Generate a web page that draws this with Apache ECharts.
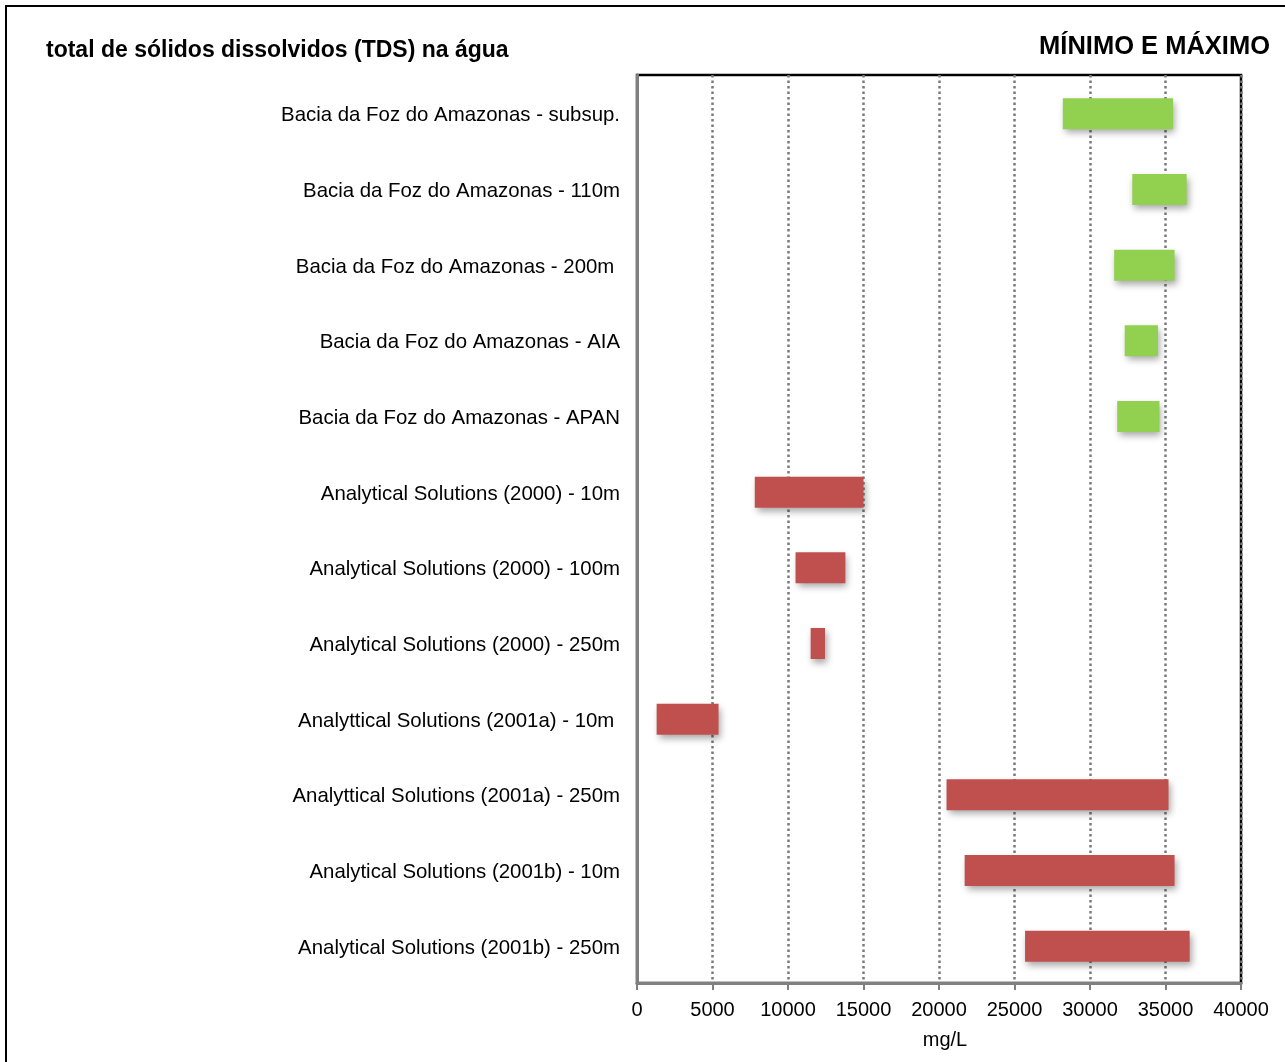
<!DOCTYPE html>
<html>
<head>
<meta charset="utf-8">
<script src="https://cdn.jsdelivr.net/npm/echarts@6.0.0/dist/echarts.min.js"></script>
<style>
  html, body { margin: 0; padding: 0; background: #fff; }
  #chart { width: 1285px; height: 1062px; }
</style>
</head>
<body>
<div id="chart"></div>
<script>
(function () {
  'use strict';

  // Sample sites, top to bottom
  var categories = [
    'Bacia da Foz do Amazonas - subsup.',
    'Bacia da Foz do Amazonas - 110m',
    'Bacia da Foz do Amazonas - 200m ',
    'Bacia da Foz do Amazonas - AIA',
    'Bacia da Foz do Amazonas - APAN',
    'Analytical Solutions (2000) - 10m',
    'Analytical Solutions (2000) - 100m',
    'Analytical Solutions (2000) - 250m',
    'Analyttical Solutions (2001a) - 10m ',
    'Analyttical Solutions (2001a) - 250m',
    'Analytical Solutions (2001b) - 10m',
    'Analytical Solutions (2001b) - 250m'
  ];

  // TDS range, mg/L
  var minValues = [28200, 32800, 31600, 32300, 31800, 7800, 10500, 11500, 1300, 20500, 21700, 25700];
  var maxValues = [35500, 36400, 35600, 34500, 34600, 15000, 13800, 12450, 5400, 35200, 35600, 36600];

  // Which group each row belongs to
  var groups = ['foz', 'foz', 'foz', 'foz', 'foz', 'as', 'as', 'as', 'as', 'as', 'as', 'as'];
  var groupColors = { foz: '#92D050', as: '#C0504D' };

  var xTicks = [0, 5000, 10000, 15000, 20000, 25000, 30000, 35000, 40000];

  var font = '"Liberation Sans", Arial, sans-serif';

  var rows = categories.map(function (c, i) {
    return [minValues[i], maxValues[i], i];
  });

  var chart = echarts.init(document.getElementById('chart'));

  var option = {
    backgroundColor: '#fff',
    animation: false,
    textStyle: { fontFamily: font },
    title: [{
      text: 'total de sólidos dissolvidos (TDS) na água',
      left: 41,
      top: 34,
      textStyle: { fontSize: 23, fontWeight: 'bold', color: '#000', fontFamily: font }
    }, {
      text: 'MÍNIMO E MÁXIMO',
      right: 10,
      top: 29,
      textStyle: { fontSize: 25.5, fontWeight: 'bold', color: '#000', fontFamily: font }
    }],
    graphic: [{
      type: 'rect',
      shape: { x: 6, y: 6, width: 1300, height: 1100 },
      style: { fill: 'none', stroke: '#000', lineWidth: 2 },
      silent: true
    }],
    grid: {
      left: 637,
      top: 75,
      right: 44,
      bottom: 79,
      show: true,
      borderColor: '#000',
      borderWidth: 2.5,
      backgroundColor: 'transparent'
    },
    xAxis: {
      type: 'value',
      min: xTicks[0],
      max: xTicks[xTicks.length - 1],
      interval: 5000,
      name: 'mg/L',
      nameLocation: 'middle',
      nameGap: 47,
      nameTextStyle: { fontSize: 20, color: '#000', fontFamily: font, padding: [0, 0, 0, 12] },
      axisLine: { show: true, lineStyle: { color: '#808080', width: 3 } },
      axisTick: { show: true, length: 7, lineStyle: { color: '#808080', width: 2 } },
      axisLabel: {
        fontSize: 20,
        color: '#000',
        margin: 17,
        fontFamily: font,
        formatter: function (v) { return String(v); }
      },
      splitLine: {
        show: true,
        lineStyle: { color: '#7a7a7a', width: 2.5, type: [2.5, 3] }
      }
    },
    yAxis: {
      type: 'category',
      data: categories,
      inverse: true,
      axisLine: { show: true, lineStyle: { color: '#808080', width: 3 } },
      axisTick: { show: false },
      axisLabel: {
        color: '#000',
        margin: 17,
        formatter: function (v) { return '{t|' + v + '}'; },
        rich: {
          t: { fontSize: 20.4, color: '#000', fontFamily: font, padding: [6, 0, 0, 0] }
        }
      },
      splitLine: { show: false }
    },
    series: [{
      type: 'custom',
      data: rows,
      encode: { x: [0, 1], y: 2 },
      z: 5,
      renderItem: function (params, api) {
        var idx = api.value(2);
        var start = api.coord([api.value(0), idx]);
        var end = api.coord([api.value(1), idx]);
        var h = api.size([0, 1])[1] * 0.41;
        return {
          type: 'rect',
          shape: { x: start[0], y: start[1] - h / 2 + 1, width: end[0] - start[0], height: h },
          style: {
            fill: groupColors[groups[params.dataIndex]],
            shadowBlur: 7,
            shadowOffsetX: 2,
            shadowOffsetY: 4,
            shadowColor: 'rgba(0, 0, 0, 0.35)'
          }
        };
      }
    }]
  };

  chart.setOption(option);
})();
</script>
</body>
</html>
